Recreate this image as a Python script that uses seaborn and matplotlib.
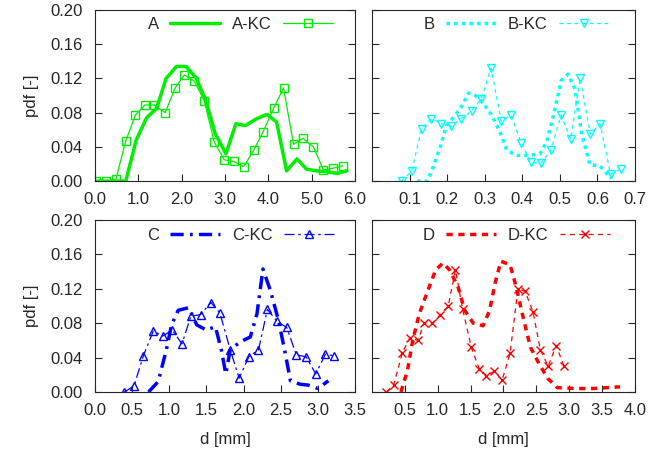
import numpy as np
import matplotlib
matplotlib.use("Agg")
import matplotlib.pyplot as plt
import seaborn as sns

sns.set_style("ticks")
plt.rcParams['font.family'] = ['Liberation Sans', 'DejaVu Sans']

# panel A
a_d = [0.0, 0.71, 0.95, 1.19, 1.42, 1.64, 1.88, 2.10, 2.33, 2.55, 2.77, 3.02, 3.25, 3.47,
       3.73, 3.97, 4.19, 4.42, 4.66, 4.88, 5.12, 5.35, 5.58, 5.81]
a_pdf = [0.0, 0.0, 0.048, 0.074, 0.085, 0.120, 0.134, 0.134, 0.121, 0.095, 0.056, 0.032, 0.067, 0.065,
         0.073, 0.078, 0.069, 0.012, 0.026, 0.014, 0.012, 0.011, 0.009, 0.012]
akc_d = [0.02, 0.25, 0.48, 0.71, 0.93, 1.15, 1.37, 1.62, 1.85, 2.06, 2.29, 2.52, 2.75, 2.98,
         3.20, 3.43, 3.66, 3.88, 4.12, 4.35, 4.58, 4.80, 5.04, 5.27, 5.48, 5.72]
akc_pdf = [0.0, 0.0, 0.002, 0.047, 0.077, 0.089, 0.089, 0.080, 0.109, 0.124, 0.117, 0.094, 0.046, 0.025,
           0.023, 0.017, 0.036, 0.058, 0.085, 0.109, 0.043, 0.050, 0.040, 0.013, 0.015, 0.018]

# panel B
b_d = [0.12, 0.147, 0.16, 0.182, 0.198, 0.218, 0.238, 0.257, 0.275, 0.293, 0.319, 0.341, 0.359, 0.385,
       0.42, 0.447, 0.465, 0.483, 0.504, 0.522, 0.54, 0.558, 0.58, 0.606, 0.637]
b_pdf = [0.0, 0.0, 0.013, 0.040, 0.065, 0.075, 0.087, 0.103, 0.100, 0.093, 0.077, 0.057, 0.036, 0.030,
         0.030, 0.032, 0.046, 0.077, 0.118, 0.125, 0.108, 0.056, 0.019, 0.018, 0.003]
bkc_d = [0.079, 0.106, 0.132, 0.158, 0.185, 0.211, 0.238, 0.265, 0.291, 0.317, 0.344, 0.37, 0.397, 0.423,
         0.45, 0.476, 0.503, 0.529, 0.554, 0.581, 0.607, 0.635, 0.662]
bkc_pdf = [0.0, 0.012, 0.061, 0.073, 0.067, 0.064, 0.073, 0.082, 0.096, 0.132, 0.070, 0.077, 0.045, 0.022,
           0.021, 0.036, 0.077, 0.049, 0.120, 0.055, 0.067, 0.008, 0.014]

# panel C
c_d = [0.72, 0.85, 0.96, 1.03, 1.12, 1.26, 1.37, 1.50, 1.62, 1.70, 1.76, 1.82, 1.95, 2.09,
       2.18, 2.26, 2.36, 2.47, 2.56, 2.63, 2.76, 2.87, 3.00, 3.14]
c_pdf = [0.0, 0.012, 0.049, 0.078, 0.095, 0.098, 0.078, 0.072, 0.076, 0.049, 0.021, 0.049, 0.058, 0.064,
         0.091, 0.143, 0.118, 0.083, 0.045, 0.013, 0.009, 0.008, 0.004, 0.013]
ckc_d = [0.395, 0.525, 0.65, 0.785, 0.91, 1.04, 1.17, 1.29, 1.42, 1.56, 1.68, 1.82, 1.94, 2.07,
         2.20, 2.32, 2.45, 2.58, 2.71, 2.84, 2.97, 3.10, 3.22]
ckc_pdf = [0.0, 0.007, 0.042, 0.071, 0.065, 0.072, 0.056, 0.088, 0.090, 0.104, 0.092, 0.049, 0.016, 0.041,
           0.049, 0.096, 0.082, 0.075, 0.043, 0.041, 0.021, 0.044, 0.042]

# panel D
d_d = [0.44, 0.54, 0.62, 0.72, 0.85, 0.97, 1.08, 1.18, 1.31, 1.41, 1.54, 1.69, 1.79, 1.87,
       1.96, 2.10, 2.20, 2.31, 2.41, 2.54, 2.67, 2.82, 3.10, 3.36, 3.77]
d_pdf = [0.0, 0.025, 0.060, 0.091, 0.118, 0.142, 0.150, 0.142, 0.122, 0.095, 0.080, 0.077, 0.095, 0.126,
         0.152, 0.148, 0.120, 0.083, 0.052, 0.033, 0.016, 0.005, 0.004, 0.004, 0.006]
dkc_d = [0.22, 0.33, 0.46, 0.575, 0.70, 0.79, 0.92, 1.04, 1.16, 1.27, 1.38, 1.51, 1.63, 1.74,
         1.86, 1.98, 2.10, 2.22, 2.33, 2.45, 2.56, 2.68, 2.80, 2.92]
dkc_pdf = [0.0, 0.008, 0.045, 0.063, 0.060, 0.080, 0.080, 0.090, 0.100, 0.142, 0.096, 0.052, 0.027, 0.019,
           0.024, 0.014, 0.045, 0.120, 0.117, 0.093, 0.049, 0.030, 0.054, 0.030]

yticks = [0.0, 0.04, 0.08, 0.12, 0.16, 0.20]

fig = plt.figure(figsize=(6.48, 4.54), dpi=100)
axA = fig.add_axes([0.1466, 0.601, 0.4014, 0.377])
axB = fig.add_axes([0.574, 0.601, 0.406, 0.377])
axC = fig.add_axes([0.1466, 0.1366, 0.4014, 0.3788])
axD = fig.add_axes([0.574, 0.1366, 0.406, 0.3788])

panels = [
    (axA, a_d, a_pdf, akc_d, akc_pdf, 'A', '#00ee00', '-', None, 's', 6.0, 0.558, 0.918),
    (axB, b_d, b_pdf, bkc_d, bkc_pdf, 'B', '#00ffff', (0, (1, 1.2)), (0, (3, 3)), 'v', 0.7, 0.548, 0.918),
    (axC, c_d, c_pdf, ckc_d, ckc_pdf, 'C', '#0000ff', (0, (3.8, 1.8, 0.8, 1.8)), (0, (8, 3, 2, 3)), '^', 3.5, 0.558, 0.91),
    (axD, d_d, d_pdf, dkc_d, dkc_pdf, 'D', '#ff0000', (0, (1.8, 1.6)), (0, (4, 3.5)), 'x', 4.0, 0.548, 0.91),
]

for ax, x1, y1, x2, y2, name, col, ls1, ls2, mk, xmax, lx, ly in panels:
    sns.lineplot(x=x1, y=y1, ax=ax, color=col, lw=2.5, sort=False, estimator=None, label=name)
    ax.lines[-1].set_linestyle(ls1)
    sns.lineplot(x=x2, y=y2, ax=ax, color=col, lw=0.9, sort=False, estimator=None, label=name + '-KC',
                 marker=mk, markersize=6, markerfacecolor='none', markeredgecolor=col, markeredgewidth=1)
    if ls2 is not None:
        ax.lines[-1].set_linestyle(ls2)
    ax.set_xlim(0, xmax)
    ax.set_ylim(0, 0.2)
    ax.set_yticks(yticks)
    ax.tick_params(direction='in', right=True, top=False, length=5, labelsize=12, width=0.8)
    ax.tick_params(axis='x', pad=8)
    ax.tick_params(axis='y', pad=9)
    for s in ax.spines.values():
        s.set_linewidth(0.8)
    ax.legend(loc='center', bbox_to_anchor=(lx, ly), ncol=2, frameon=False, markerfirst=False,
              handlelength=3.0, fontsize=12, columnspacing=0.75, borderaxespad=0, handletextpad=0.65,
              borderpad=0)
    ax.set_xlabel('')
    ax.set_ylabel('')

axA.set_xticks(np.arange(0, 6.01, 1.0))
axA.set_xticklabels(['%.1f' % v for v in np.arange(0, 6.01, 1.0)])
axB.set_xticks(np.arange(0.1, 0.71, 0.1))
axB.set_xticklabels(['%.1f' % v for v in np.arange(0.1, 0.71, 0.1)])
axC.set_xticks(np.arange(0, 3.51, 0.5))
axC.set_xticklabels(['%.1f' % v for v in np.arange(0, 3.51, 0.5)])
axD.set_xticks(np.arange(0.5, 4.01, 0.5))
axD.set_xticklabels(['%.1f' % v for v in np.arange(0.5, 4.01, 0.5)])

for ax in (axA, axC):
    ax.set_yticklabels(['%.2f' % v for v in yticks])
    ax.set_ylabel('pdf [-]', fontsize=12, labelpad=8)
for ax in (axB, axD):
    ax.set_yticklabels([])
for ax in (axC, axD):
    ax.set_xlabel('d [mm]', fontsize=12, labelpad=10)

fig.savefig('out.png', dpi=100)
